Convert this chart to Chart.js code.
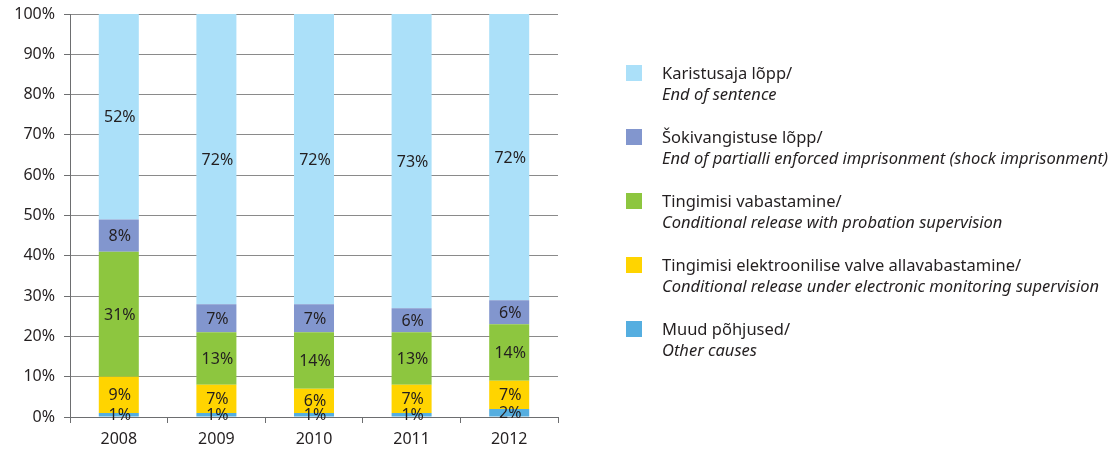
<!DOCTYPE html>
<html>
<head>
<meta charset="utf-8">
<script src="https://cdn.jsdelivr.net/npm/chart.js@4/dist/chart.umd.min.js"></script>
<style>
  html, body { margin: 0; padding: 0; background: #fff; }
  #wrap { position: relative; width: 1115px; height: 449px; }
  #releaseChart { position: absolute; left: 0; top: 0; }
  .legend { position: absolute; left: 0; top: 0; font-family: "Noto Sans", sans-serif; font-size: 16.5px; color: #231f20; }
  .legend .box { position: absolute; left: 626px; width: 16px; height: 16px; }
  .legend .txt { position: absolute; left: 662px; line-height: 21px; white-space: nowrap; }
  .legend .txt i { font-style: italic; }
</style>
</head>
<body>
<div id="wrap">
  <canvas id="releaseChart" width="1115" height="449"></canvas>
  <div class="legend" id="legend"></div>
</div>
<script>
// years on the x axis
const years = ['2008', '2009', '2010', '2011', '2012'];
const yTicks = [0, 10, 20, 30, 40, 50, 60, 70, 80, 90, 100];

// share of releases by reason, % (bottom to top of the stack)
const otherCauses = [1, 1, 1, 1, 2];
const electronicRelease = [9, 7, 6, 7, 7];
const probationRelease = [31, 13, 14, 13, 14];
const shockEnd = [8, 7, 7, 6, 6];
const sentenceEnd = [52, 72, 72, 73, 72];

const seriesNames = [
    ['Muud põhjused/', 'Other causes'],
    ['Tingimisi elektroonilise valve allavabastamine/', 'Conditional release under electronic monitoring supervision'],
    ['Tingimisi vabastamine/', 'Conditional release with probation supervision'],
    ['Šokivangistuse lõpp/', 'End of partialli enforced imprisonment (shock imprisonment)'],
    ['Karistusaja lõpp/', 'End of sentence']
];
const seriesColors = ['#55aee0', '#ffd400', '#8dc63f', '#8296ce', '#abe0f9'];
const seriesData = [otherCauses, electronicRelease, probationRelease, shockEnd, sentenceEnd];

const FONT = '"Noto Sans", sans-serif';
const TEXT = '#231f20';

// writes the % value in the middle of every segment
const segmentLabels = {
    id: 'segmentLabels',
    afterDatasetsDraw(chart) {
        const ctx = chart.ctx;
        ctx.save();
        ctx.font = '16px ' + FONT;
        ctx.fillStyle = TEXT;
        ctx.textAlign = 'center';
        ctx.textBaseline = 'middle';
        chart.data.datasets.forEach((ds, i) => {
            const meta = chart.getDatasetMeta(i);
            meta.data.forEach((bar, j) => {
                const p = bar.getProps(['x', 'y', 'base'], true);
                const top = Math.max(p.y, chart.chartArea.top);
                ctx.fillText(ds.data[j] + '%', p.x + 1, (top + p.base) / 2 + 1);
            });
        });
        ctx.restore();
    }
};

const datasets = seriesData.map((vals, i) => ({
    label: seriesNames[i][0],
    data: vals,
    backgroundColor: seriesColors[i],
    borderWidth: 0,
    barPercentage: 0.82,
    categoryPercentage: 0.5
}));

new Chart(document.getElementById('releaseChart'), {
    type: 'bar',
    data: { labels: years, datasets: datasets },
    options: {
        responsive: false,
        animation: false,
        layout: { padding: { left: 0, top: 14, right: 557, bottom: 0 } },
        plugins: { legend: { display: false }, tooltip: { enabled: false } },
        scales: {
            x: {
                stacked: true,
                afterFit: s => { s.height = 32; s.paddingLeft = 0; s.paddingRight = 0; },
                border: { color: '#6d6e70', width: 1 },
                grid: {
                    offset: true,
                    drawOnChartArea: true,
                    color: c => c.index === years.length ? '#8a8a8a' : 'rgba(0,0,0,0)',
                    tickColor: '#6d6e70',
                    tickLength: 6
                },
                ticks: { color: TEXT, font: { family: FONT, size: 16 }, padding: 7 }
            },
            y: {
                stacked: true,
                min: 0,
                max: 100,
                // keep the plot edges fixed, no room reserved for label overhang
                afterFit: s => { s.width = 70; s.paddingTop = 0; s.paddingBottom = 0; },
                afterBuildTicks: s => { s.ticks = yTicks.map(v => ({ value: v })); },
                border: { color: '#6d6e70', width: 1 },
                grid: { color: '#8a8a8a', tickColor: '#6d6e70', tickLength: 6 },
                ticks: {
                    color: TEXT,
                    font: { family: FONT, size: 16 },
                    padding: 9,
                    callback: v => v + '%'
                }
            }
        }
    },
    plugins: [segmentLabels]
});

// legend on the right, top entry is the top of the stack
const legend = document.getElementById('legend');
for (let k = 0; k < seriesNames.length; k++) {
    const i = seriesNames.length - 1 - k;
    const box = document.createElement('div');
    box.className = 'box';
    box.style.top = (65 + 64 * k) + 'px';
    box.style.background = seriesColors[i];
    const txt = document.createElement('div');
    txt.className = 'txt';
    txt.style.top = (62 + 64 * k) + 'px';
    txt.innerHTML = seriesNames[i][0] + '<br><i>' + seriesNames[i][1] + '</i>';
    legend.appendChild(box);
    legend.appendChild(txt);
}
</script>
</body>
</html>
